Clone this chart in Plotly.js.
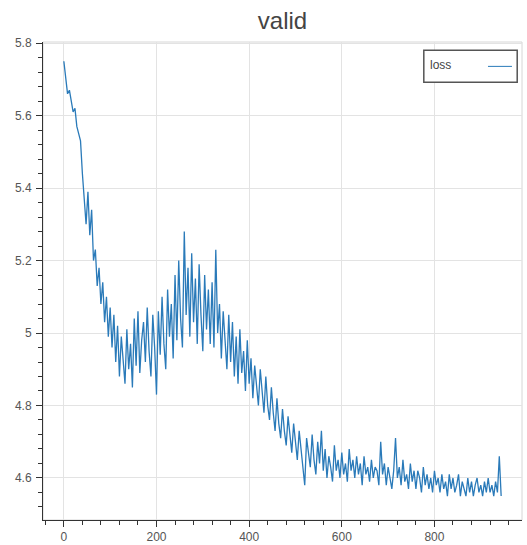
<!DOCTYPE html>
<html>
<head>
<meta charset="utf-8">
<script src="https://cdn.plot.ly/plotly-3.0.1.min.js"></script>
<style>html,body{margin:0;padding:0;background:#fff;}#chart{width:527px;height:545px;}</style>
</head>
<body>
<div id="chart"></div>
<script>
const steps = [0,4,8,12,16,20,24,28,32,36,40,44,48,52,56,60,64,68,72,76,
80,84,88,92,96,100,104,108,112,116,120,124,128,132,136,140,144,148,152,156,
160,164,168,172,176,180,184,188,192,196,200,204,208,212,216,220,224,228,232,236,
240,244,248,252,256,260,264,268,272,276,280,284,288,292,296,300,304,308,312,316,
320,324,328,332,336,340,344,348,352,356,360,364,368,372,376,380,384,388,392,396,
400,404,408,412,416,420,424,428,432,436,440,444,448,452,456,460,464,468,472,476,
480,484,488,492,496,500,504,508,512,516,520,524,528,532,536,540,544,548,552,556,
560,564,568,572,576,580,584,588,592,596,600,604,608,612,616,620,624,628,632,636,
640,644,648,652,656,660,664,668,672,676,680,684,688,692,696,700,704,708,712,716,
720,724,728,732,736,740,744,748,752,756,760,764,768,772,776,780,784,788,792,796,
800,804,808,812,816,820,824,828,832,836,840,844,848,852,856,860,864,868,872,876,
880,884,888,892,896,900,904,908,912,916,920,924,928,932,936,940,944];
const loss = [5.75,5.70,5.66,5.67,5.64,5.61,5.62,5.57,5.55,5.53,
5.44,5.36,5.30,5.39,5.27,5.34,5.20,5.23,5.13,5.18,
5.08,5.14,5.03,5.10,4.99,5.07,4.96,5.05,4.92,5.02,
4.88,4.99,4.93,4.86,5.01,4.90,4.97,4.85,5.04,4.91,
5.06,4.89,4.98,5.03,4.92,5.07,4.95,4.88,5.05,4.96,
4.83,5.06,4.94,5.10,4.97,4.90,5.12,4.99,5.08,4.93,
5.16,4.98,5.20,5.04,4.96,5.28,5.05,5.18,4.99,5.22,
5.03,5.15,4.97,5.19,5.05,4.95,5.16,5.01,5.12,4.97,
5.14,4.96,5.23,5.00,5.08,4.93,5.06,4.98,4.90,5.05,
4.92,5.03,4.88,4.99,4.86,5.01,4.89,4.95,4.84,4.98,
4.86,4.93,4.82,4.91,4.85,4.80,4.90,4.83,4.78,4.88,
4.80,4.76,4.85,4.78,4.73,4.82,4.75,4.71,4.79,4.73,
4.69,4.77,4.72,4.67,4.75,4.69,4.65,4.73,4.68,4.64,
4.58,4.71,4.66,4.63,4.72,4.65,4.61,4.70,4.64,4.73,
4.62,4.68,4.60,4.66,4.63,4.59,4.69,4.62,4.65,4.60,
4.67,4.61,4.64,4.59,4.68,4.62,4.65,4.60,4.66,4.61,
4.64,4.58,4.66,4.61,4.63,4.59,4.65,4.60,4.63,4.62,
4.58,4.70,4.61,4.64,4.58,4.63,4.60,4.57,4.62,4.71,
4.60,4.63,4.58,4.65,4.59,4.61,4.57,4.64,4.59,4.62,
4.57,4.62,4.60,4.56,4.63,4.58,4.61,4.57,4.60,4.56,
4.62,4.58,4.60,4.56,4.61,4.57,4.59,4.55,4.61,4.57,
4.60,4.56,4.58,4.61,4.55,4.59,4.57,4.55,4.60,4.56,
4.59,4.55,4.58,4.60,4.56,4.58,4.55,4.59,4.56,4.60,
4.56,4.58,4.55,4.59,4.56,4.66,4.55];
const seriesName = 'loss';
const chartTitle = 'valid';

const lineColor = '#2a7ab9';
const trace = {
  x: steps, y: loss, type: 'scatter', mode: 'lines', name: seriesName,
  line: {color: lineColor, width: 1.3}, showlegend: false
};

const tickFont = {family: 'Liberation Sans, Arial, sans-serif', size: 12, color: '#555'};
const layout = {
  width: 527, height: 545,
  margin: {l: 43, r: 5, t: 42, b: 25, pad: 0},
  paper_bgcolor: '#fff', plot_bgcolor: '#fff',
  title: {text: chartTitle, xref: 'paper', x: 0.5, xanchor: 'center', yref: 'container', y: 0.962, yanchor: 'middle',
    font: {family: 'Liberation Sans, Arial, sans-serif', size: 24, color: '#444'}},
  xaxis: {
    range: [-45, 989], tick0: 0, dtick: 200, showgrid: true, gridcolor: '#e3e3e3', gridwidth: 1,
    zeroline: false, showline: true, linecolor: '#333', linewidth: 1,
    ticks: 'outside', ticklen: 6, tickcolor: '#333', tickfont: tickFont, ticklabelstandoff: 0,
    minor: {dtick: 40, tick0: 0, ticks: 'outside', ticklen: 4, tickcolor: '#333', showgrid: false}
  },
  yaxis: {
    range: [4.484, 5.803], tick0: 4.6, dtick: 0.2, showgrid: true, gridcolor: '#e3e3e3', gridwidth: 1,
    zeroline: false, showline: true, linecolor: '#333', linewidth: 1,
    ticks: 'outside', ticklen: 6, tickcolor: '#333', tickfont: tickFont, ticklabelstandoff: 2,
    minor: {dtick: 0.04, tick0: 4.6, ticks: 'outside', ticklen: 4, tickcolor: '#333', showgrid: false}
  },
  shapes: [
    {type: 'rect', xref: 'paper', yref: 'paper', x0: 0, x1: 1, y0: 0, y1: 1, line: {color: '#d6d6d6', width: 1}, layer: 'below'},
    {type: 'rect', xref: 'paper', yref: 'paper', x0: 0.795, x1: 0.990, y0: 0.916, y1: 0.983, line: {color: '#555', width: 1.5}, fillcolor: '#fff'},
    {type: 'line', xref: 'paper', yref: 'paper', x0: 0.929, x1: 0.979, y0: 0.949, y1: 0.949, line: {color: lineColor, width: 1}}
  ],
  annotations: [
    {xref: 'paper', yref: 'paper', x: 0.803, y: 0.951, xanchor: 'left', yanchor: 'middle', text: seriesName, showarrow: false,
     font: {family: 'Liberation Sans, Arial, sans-serif', size: 12, color: '#444'}}
  ]
};
Plotly.newPlot('chart', [trace], layout, {displayModeBar: false, staticPlot: true});
</script>
</body>
</html>
